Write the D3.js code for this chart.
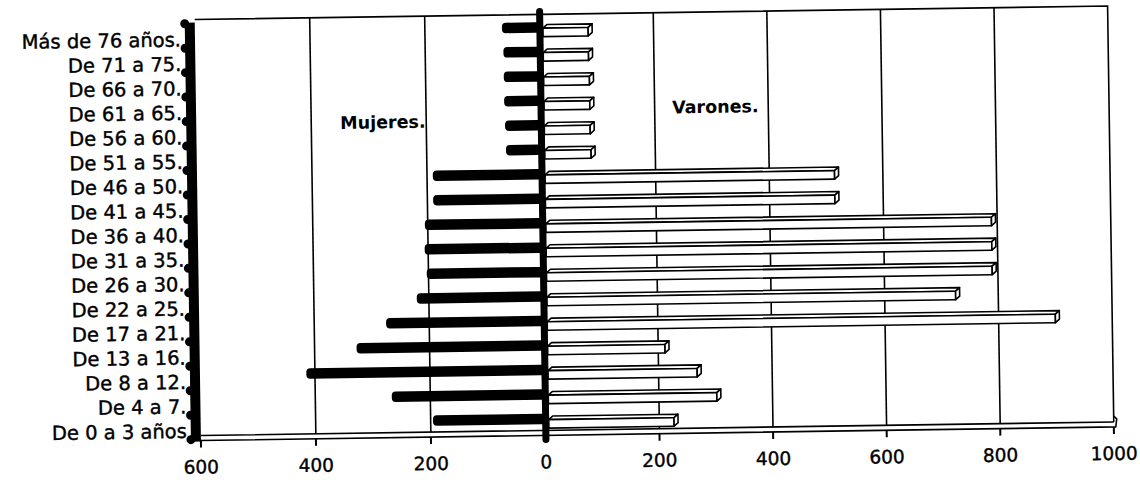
<!DOCTYPE html>
<html>
<head>
<meta charset="utf-8">
<script src="https://cdn.jsdelivr.net/npm/d3@7"></script>
<style>
body { margin: 0; background: #fff; }
text { font-family: "DejaVu Sans", sans-serif; fill: #000; }
</style>
</head>
<body>
<script>
// age groups, youngest first
var ages = ["De 0 a 3 años", "De 4 a 7.", "De 8 a 12.", "De 13 a 16.", "De 17 a 21.",
  "De 22 a 25.", "De 26 a 30.", "De 31 a 35.", "De 36 a 40.", "De 41 a 45.",
  "De 46 a 50.", "De 51 a 55.", "De 56 a 60.", "De 61 a 65.", "De 66 a 70.",
  "De 71 a 75.", "Más de 76 años."];
var varones = [226, 302, 268, 212, 900, 725, 790, 790, 790, 515, 515, 87, 86, 86, 86, 85, 85];
var mujeres = [196, 267, 415, 327, 275, 221, 203, 206, 205, 190, 190, 62, 63, 64, 64, 64, 66];
var ticks = [-600, -400, -200, 0, 200, 400, 600, 800, 1000];

var W = 1140, H = 480;
var svg = d3.select("body").append("svg").attr("width", W).attr("height", H);
// the scanned page is slightly tilted
var g = svg.append("g").attr("transform", "rotate(-0.85,570,240)");

var x = d3.scaleLinear().domain([-600, 0, 1000]).range([198, 543, 1111]);
var y = d3.scaleBand().domain(ages.slice().reverse()).range([18, 434]);
var yTop = 14, yFloor = 430;
var cy = function(a) { return y(a) + y.bandwidth() / 2; };

// grid lines
g.selectAll(".grid").data(ticks.filter(function(t) { return t != -600 && t != 0 && t != 1000; }))
  .enter().append("line")
  .attr("x1", function(d) { return x(d); }).attr("x2", function(d) { return x(d); })
  .attr("y1", yTop).attr("y2", yFloor)
  .attr("stroke", "#000").attr("stroke-width", 1.6);

// frame
g.append("path")
  .attr("d", "M" + x(-600) + "," + yTop + "H" + x(1000) + "V" + yFloor)
  .attr("fill", "none").attr("stroke", "#000").attr("stroke-width", 1.6);

// floor
g.append("path")
  .attr("d", "M" + x(-600) + "," + yFloor + "H" + x(1000) +
    "M" + (x(-600) - 2) + "," + (yFloor + 5) + "H" + (x(1000) + 2) +
    "L" + (x(1000) + 3) + "," + (yFloor - 3) + "L" + x(1000) + "," + (yFloor - 6))
  .attr("fill", "none").attr("stroke", "#000").attr("stroke-width", 1.6)
  .attr("stroke-linejoin", "round");

// ticks under the floor
g.selectAll(".tick").data(ticks).enter().append("line")
  .attr("x1", function(d) { return x(d); }).attr("x2", function(d) { return x(d); })
  .attr("y1", yFloor + 5).attr("y2", yFloor + 12)
  .attr("stroke", "#000").attr("stroke-width", 2);

g.selectAll(".tl").data(ticks).enter().append("text")
  .attr("x", function(d) { return x(d); })
  .attr("y", 468)
  .attr("text-anchor", "middle")
  .style("font-size", "18.5px")
  .style("stroke", "#000").style("stroke-width", 0.4)
  .text(function(d) { return Math.abs(d); });

// varones bars (white, 3D box)
var men = g.selectAll(".men").data(ages).enter().append("g");
men.each(function(a, i) {
  var x0 = x(0) + 3, x1 = x(varones[i]), c = cy(a), d = 4;
  var s = d3.select(this);
  s.append("path")
    .attr("d", "M" + x0 + "," + (c - 2.5) + "L" + (x0 + d) + "," + (c - 6) +
      "H" + (x1 + d) + "L" + x1 + "," + (c - 2.5) + "Z");
  s.append("rect").attr("x", x0).attr("y", c - 2.5).attr("width", x1 - x0).attr("height", 8.5);
  s.append("path")
    .attr("d", "M" + x1 + "," + (c - 2.5) + "L" + (x1 + d) + "," + (c - 6) +
      "V" + (c + 2.5) + "L" + x1 + "," + (c + 6) + "Z");
  s.selectAll("*").attr("fill", "#fff").attr("stroke", "#000")
    .attr("stroke-width", 1.6).attr("stroke-linejoin", "round");
});

// mujeres bars (black)
g.selectAll(".women").data(ages).enter().append("rect")
  .attr("x", function(a, i) { return x(-mujeres[i]); })
  .attr("y", function(a) { return cy(a) - 8.5; })
  .attr("width", function(a, i) { return x(0) - x(-mujeres[i]); })
  .attr("height", 10.5)
  .attr("rx", 4)
  .attr("fill", "#000");

// zero axis
g.append("line")
  .attr("x1", x(0)).attr("x2", x(0)).attr("y1", 11).attr("y2", 439)
  .attr("stroke", "#000").attr("stroke-width", 7).attr("stroke-linecap", "round");

// left wall with knobs
g.append("rect").attr("x", x(-600) - 10).attr("y", 17).attr("width", 10).attr("height", yFloor + 6 - 17)
  .attr("fill", "#000");
var bounds = ages.map(function(a) { return y(a); }).concat([y.range()[1]]);
g.selectAll(".knob").data(bounds).enter().append("circle")
  .attr("cx", x(-600) - 10).attr("cy", function(d) { return d; }).attr("r", 4.5)
  .attr("fill", "#000");

// age labels
g.selectAll(".lab").data(ages).enter().append("text")
  .attr("x", 184)
  .attr("y", function(a) { return cy(a) + 10.5; })
  .attr("text-anchor", "end")
  .style("font-size", "19.5px")
  .style("stroke", "#000").style("stroke-width", 0.4)
  .text(function(a) { return a; });

g.append("text").attr("x", 342).attr("y", 125.5)
  .style("font-size", "17.5px").style("font-weight", "bold").text("Mujeres.");
g.append("text").attr("x", 674).attr("y", 115)
  .style("font-size", "17.5px").style("font-weight", "bold").text("Varones.");
</script>
</body>
</html>
